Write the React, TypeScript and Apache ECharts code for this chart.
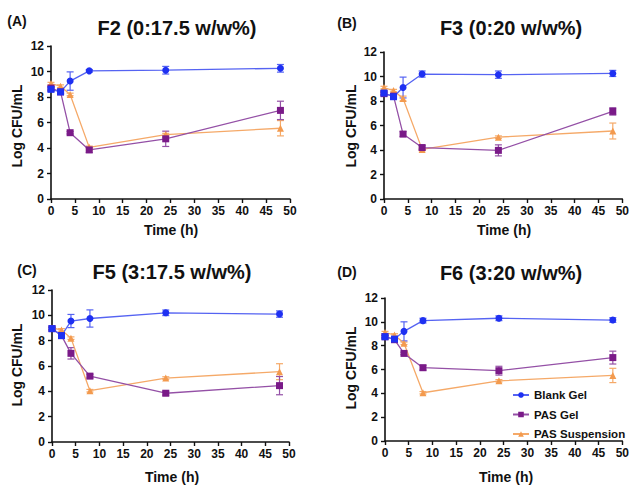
import React, { useEffect, useRef } from "react";
import * as echarts from "echarts";

// ---------- data ----------
const TIMES = [0, 2, 4, 8, 24, 48];
const SERIES_NAMES = ["Blank Gel", "PAS Gel", "PAS Suspension"];
const PANEL_LETTERS = ["(A)", "(B)", "(C)", "(D)"];
const PANEL_TITLES = ["F2 (0:17.5 w/w%)", "F3 (0:20 w/w%)", "F5 (3:17.5 w/w%)", "F6 (3:20 w/w%)"];
const X_AXIS_NAME = "Time (h)";
const Y_AXIS_NAME = "Log CFU/mL";
const X_MIN = 0, X_MAX = 50, X_STEP = 5;
const Y_MIN = 0, Y_MAX = 12, Y_STEP = 2;

// Panel A (F2)
const blankA = [8.6, 8.4, 9.25, 10.05, 10.1, 10.25];
const blankErrA = [0.15, 0.1, 0.72, 0.1, 0.3, 0.3];
const gelA = [8.7, 8.4, 5.2, 3.85, 4.72, 6.95];
const gelErrA = [0.15, 0.1, 0.1, 0.2, 0.6, 0.72];
const suspA = [9.05, 8.85, 8.2, 4.05, 5.05, 5.55];
const suspErrA = [0.1, 0.1, 0.1, 0.1, 0.1, 0.6];

// Panel B (F3)
const blankB = [8.65, 8.35, 9.1, 10.2, 10.15, 10.25];
const blankErrB = [0.15, 0.1, 0.85, 0.25, 0.3, 0.25];
const gelB = [8.6, 8.4, 5.3, 4.2, 3.97, 7.15];
const gelErrB = [0.1, 0.1, 0.2, 0.15, 0.45, 0.3];
const suspB = [9.1, 8.85, 8.2, 4.05, 5.05, 5.55];
const suspErrB = [0.1, 0.1, 0.2, 0.1, 0.1, 0.65];

// Panel C (F5)
const blankC = [8.95, 8.4, 9.55, 9.75, 10.2, 10.1];
const blankErrC = [0.1, 0.1, 0.52, 0.68, 0.22, 0.25];
const gelC = [8.95, 8.4, 7.0, 5.2, 3.85, 4.45];
const gelErrC = [0.1, 0.1, 0.45, 0.15, 0.15, 0.72];
const suspC = [9.0, 8.85, 8.2, 4.05, 5.05, 5.55];
const suspErrC = [0.1, 0.1, 0.1, 0.1, 0.1, 0.63];

// Panel D (F6)
const blankD = [8.75, 8.55, 9.2, 10.1, 10.3, 10.15];
const blankErrD = [0.1, 0.1, 0.8, 0.2, 0.2, 0.2];
const gelD = [8.75, 8.5, 7.35, 6.15, 5.9, 7.0];
const gelErrD = [0.1, 0.1, 0.1, 0.2, 0.37, 0.54];
const suspD = [9.1, 8.9, 8.2, 4.05, 5.05, 5.5];
const suspErrD = [0.1, 0.1, 0.1, 0.1, 0.1, 0.6];

const PANEL_VALUES = [
  [blankA, gelA, suspA],
  [blankB, gelB, suspB],
  [blankC, gelC, suspC],
  [blankD, gelD, suspD],
];
const PANEL_ERRORS = [
  [blankErrA, gelErrA, suspErrA],
  [blankErrB, gelErrB, suspErrB],
  [blankErrC, gelErrC, suspErrC],
  [blankErrD, gelErrD, suspErrD],
];

// ---------- layout / style ----------
const FONT = '"Liberation Sans", Arial, Helvetica, sans-serif';
const GRIDS = [
  { left: 51, top: 46, width: 239, height: 153 },
  { left: 384, top: 52, width: 239, height: 147 },
  { left: 52, top: 290, width: 237, height: 152 },
  { left: 385, top: 298, width: 238, height: 143 },
];
const LETTER_POS = [
  [17, 21],
  [347, 23],
  [27, 270],
  [347, 272],
];
const TITLE_POS = [
  [177, 28],
  [511, 28],
  [172, 272],
  [511, 273],
];
const YNAME_POS = [
  [17, 126],
  [351, 126],
  [17, 365],
  [351, 368],
];
const XNAME_POS = [
  [171, 230],
  [504, 230],
  [172, 477],
  [506, 477],
];

const MARKER_COLORS = ["#1e30f2", "#7a1a88", "#f39a4e"];
const LINE_COLORS = ["#5563f2", "#9450a6", "#f5a968"];
const SYMBOLS = ["circle", "rect", "triangle"];

export default function App() {
  const ref = useRef<HTMLDivElement>(null);

  useEffect(() => {
    if (!ref.current) return;
    const chart = echarts.init(ref.current, null, { renderer: "svg" });

    const xAxes: any[] = [];
    const yAxes: any[] = [];
    const series: any[] = [];
    const graphics: any[] = [];

    GRIDS.forEach((g, p) => {
      xAxes.push({
        type: "value",
        gridIndex: p,
        min: X_MIN,
        max: X_MAX,
        interval: X_STEP,
        splitLine: { show: false },
        axisLine: { show: true, onZero: false, lineStyle: { color: "#111", width: 1.6 } },
        axisTick: { show: true, inside: false, length: 4, lineStyle: { color: "#111", width: 1.4 } },
        axisLabel: {
          show: true,
          margin: 6,
          color: "#111",
          fontFamily: FONT,
          fontWeight: "bold",
          fontSize: 12,
          showMinLabel: true,
          showMaxLabel: true,
          hideOverlap: false,
        },
      });
      yAxes.push({
        type: "value",
        gridIndex: p,
        min: Y_MIN,
        max: Y_MAX,
        interval: Y_STEP,
        splitLine: { show: false },
        axisLine: { show: true, onZero: false, lineStyle: { color: "#111", width: 1.6 } },
        axisTick: { show: true, inside: false, length: 4, lineStyle: { color: "#111", width: 1.4 } },
        axisLabel: {
          show: true,
          margin: 7,
          color: "#111",
          fontFamily: FONT,
          fontWeight: "bold",
          fontSize: 12,
          showMinLabel: true,
          showMaxLabel: true,
          hideOverlap: false,
        },
      });

      // draw order: suspension, gel, blank on top
      [2, 1, 0].forEach((s) => {
        const vals = PANEL_VALUES[p][s];
        const errs = PANEL_ERRORS[p][s];
        const lineColor = LINE_COLORS[s];
        series.push({
          type: "custom",
          name: `err-${p}-${s}`,
          xAxisIndex: p,
          yAxisIndex: p,
          z: 2,
          silent: true,
          encode: { x: 0, y: [1, 2] },
          data: vals.map((v, i) => [TIMES[i], v - errs[i], v + errs[i]]),
          renderItem: (params: any, api: any) => {
            const x = api.value(0);
            const top = api.coord([x, api.value(2)]);
            const bot = api.coord([x, api.value(1)]);
            const cap = 3.5;
            const style = { stroke: lineColor, lineWidth: 1.2, fill: "none" };
            return {
              type: "group",
              children: [
                { type: "line", shape: { x1: top[0], y1: top[1], x2: bot[0], y2: bot[1] }, style },
                { type: "line", shape: { x1: top[0] - cap, y1: top[1], x2: top[0] + cap, y2: top[1] }, style },
                { type: "line", shape: { x1: bot[0] - cap, y1: bot[1], x2: bot[0] + cap, y2: bot[1] }, style },
              ],
            };
          },
        });
        series.push({
          type: "line",
          name: SERIES_NAMES[s],
          xAxisIndex: p,
          yAxisIndex: p,
          z: 3,
          symbol: SYMBOLS[s],
          symbolSize: 7,
          showSymbol: true,
          lineStyle: { color: lineColor, width: 1.3 },
          itemStyle: { color: MARKER_COLORS[s] },
          data: vals.map((v, i) =>
            s === 0 && i < 2
              ? { value: [TIMES[i], v], symbol: "rect" }
              : { value: [TIMES[i], v] }
          ),
        });
      });

      graphics.push({
        type: "text",
        x: LETTER_POS[p][0],
        y: LETTER_POS[p][1],
        style: {
          text: PANEL_LETTERS[p],
          font: `bold 14px ${FONT}`,
          fill: "#111",
          align: "center",
          verticalAlign: "middle",
        },
      });
      graphics.push({
        type: "text",
        x: TITLE_POS[p][0],
        y: TITLE_POS[p][1],
        style: {
          text: PANEL_TITLES[p],
          font: `bold 20px ${FONT}`,
          fill: "#111",
          align: "center",
          verticalAlign: "middle",
        },
      });
      graphics.push({
        type: "text",
        x: YNAME_POS[p][0],
        y: YNAME_POS[p][1],
        rotation: Math.PI / 2,
        style: {
          text: Y_AXIS_NAME,
          font: `bold 14px ${FONT}`,
          fill: "#111",
          align: "center",
          verticalAlign: "middle",
        },
      });
      graphics.push({
        type: "text",
        x: XNAME_POS[p][0],
        y: XNAME_POS[p][1],
        style: {
          text: X_AXIS_NAME,
          font: `bold 14px ${FONT}`,
          fill: "#111",
          align: "center",
          verticalAlign: "middle",
        },
      });
    });

    chart.setOption({
      animation: false,
      backgroundColor: "#ffffff",
      textStyle: { fontFamily: FONT },
      grid: GRIDS.map((g) => ({ ...g, containLabel: false })),
      xAxis: xAxes,
      yAxis: yAxes,
      legend: {
        data: SERIES_NAMES,
        orient: "vertical",
        left: 507,
        top: 384,
        itemWidth: 16,
        itemHeight: 7,
        itemGap: 7.5,
        selectedMode: false,
        textStyle: { fontFamily: FONT, fontWeight: "bold", fontSize: 11.5, color: "#111" },
      },
      graphic: graphics,
      series,
    });

    return () => chart.dispose();
  }, []);

  return (
    <div
      ref={ref}
      style={{ position: "fixed", left: 0, top: 0, width: 632, height: 485, background: "#fff" }}
    />
  );
}
